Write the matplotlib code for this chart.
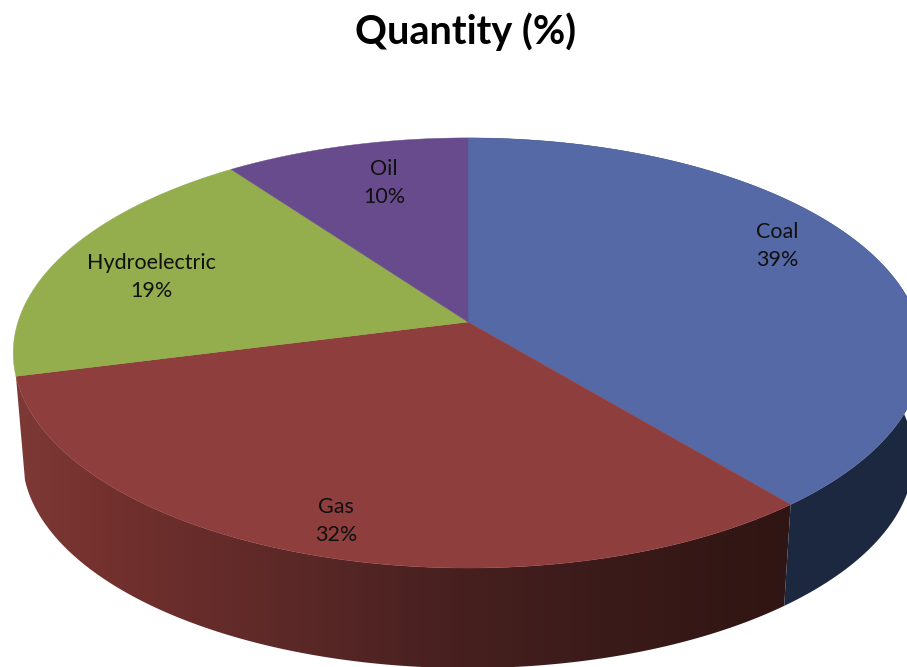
import numpy as np
import matplotlib
matplotlib.use('Agg')
import matplotlib.pyplot as plt

categories = ['Coal', 'Gas', 'Hydroelectric', 'Oil']
values = [39, 32, 19, 10]

top_colors = ['#5469a6', '#8e3e3d', '#94ad4d', '#684b8c']
coal_side = '#1c2740'

# side of the gas slice gets darker from left to right
shade_x = [20, 100, 300, 460, 600, 790]
shade_rgb = np.array([[0x7c, 0x39, 0x36], [0x74, 0x31, 0x2e], [0x5a, 0x28, 0x27],
                      [0x46, 0x20, 0x1f], [0x3b, 0x1b, 0x1a], [0x2f, 0x15, 0x13]]) / 255

# geometry of the tilted disc, in pixels
cx, cy = 468, 322
rx, ry, persp = 450, 210.6, 0.144
depth, bottom_scale = 105, 0.98

label_pos = [(777, 246), (336, 521), (151, 277), (384, 183)]


def project(angle, scale=1.0, dy=0.0):
    # angle is clockwise from the top, radians
    u, v = np.sin(angle), np.cos(angle)
    d = 1 + persp * v
    return cx + scale * rx * u / d, cy + dy - scale * ry * v / d


fig = plt.figure(figsize=(9.07, 6.67), dpi=100)
ax = fig.add_axes([0, 0, 1, 1])

edges = np.cumsum([0] + values) / sum(values) * 2 * np.pi

# side wall first, top faces go over it
for i in range(len(values)):
    t = np.linspace(edges[i], edges[i + 1], 200)
    x1, y1 = project(t)
    x2, y2 = project(t[::-1], bottom_scale, depth)
    if categories[i] == 'Coal':
        ax.fill(np.r_[x1, x2], np.r_[y1, y2], color=coal_side, lw=0)
    elif categories[i] == 'Gas':
        patch = ax.fill(np.r_[x1, x2], np.r_[y1, y2], color='none', lw=0)[0]
        xs = np.arange(0, 908)
        grad = np.stack([np.interp(xs, shade_x, shade_rgb[:, c]) for c in range(3)], axis=1)
        im = ax.imshow(grad[np.newaxis, :, :], extent=(0, 907, 667, 0), aspect='auto',
                       interpolation='bilinear')
        im.set_clip_path(patch)

for i in range(len(values)):
    t = np.linspace(edges[i], edges[i + 1], 200)
    x, y = project(t)
    ax.fill(np.r_[cx, x], np.r_[cy, y], color=top_colors[i], lw=0.3)

ax.set_xlim(0, 907)
ax.set_ylim(667, 0)
ax.axis('off')

for i in range(len(values)):
    ax.text(label_pos[i][0], label_pos[i][1], f'{categories[i]}\n{values[i]}%',
            ha='center', va='center', fontsize=15.5, family='Lato',
            color='#101010', linespacing=1.47)

ax.text(466, 32, 'Quantity (%)', ha='center', va='center', fontsize=28.5,
        family='Lato', fontweight='bold', color='black')

fig.savefig('out.png', dpi=100)
